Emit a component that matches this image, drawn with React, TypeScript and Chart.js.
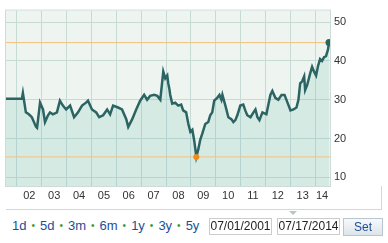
import React, { useEffect, useRef } from "react";
import { Chart, registerables } from "chart.js";
Chart.register(...registerables);

// decimal-year dates and prices
const dates = [
  2001.56, 2002.2, 2002.24, 2002.36, 2002.48, 2002.6, 2002.77, 2002.81, 2002.93,
  2003.05, 2003.13, 2003.25, 2003.33, 2003.45, 2003.61, 2003.73, 2003.85, 2003.98,
  2004.14, 2004.3, 2004.46, 2004.62, 2004.78, 2004.86, 2005.02, 2005.19, 2005.31,
  2005.47, 2005.63, 2005.75, 2005.87, 2006.07, 2006.23, 2006.4, 2006.48, 2006.64,
  2006.8, 2006.96, 2007.12, 2007.24, 2007.36, 2007.52, 2007.65, 2007.77, 2007.89,
  2007.97, 2008.05, 2008.09, 2008.13, 2008.17, 2008.25, 2008.37, 2008.49, 2008.61,
  2008.69, 2008.81, 2008.9, 2008.98, 2009.06, 2009.14, 2009.22, 2009.3, 2009.38,
  2009.46, 2009.58, 2009.7, 2009.78, 2009.86, 2009.94, 2010.06, 2010.15, 2010.23,
  2010.27, 2010.39, 2010.51, 2010.63, 2010.71, 2010.79, 2010.87, 2010.99, 2011.11,
  2011.19, 2011.27, 2011.4, 2011.52, 2011.6, 2011.68, 2011.76, 2011.88, 2012.04,
  2012.2, 2012.28, 2012.4, 2012.52, 2012.65, 2012.77, 2012.89, 2013.01, 2013.13,
  2013.25, 2013.33, 2013.4, 2013.48, 2013.56, 2013.6, 2013.68, 2013.8, 2013.88,
  2013.96, 2014.04, 2014.12, 2014.2, 2014.28, 2014.36, 2014.44, 2014.52, 2014.56,
];
const prices = [
  30.25, 30.25, 31.75, 26.75, 26.25, 25.5, 23, 22.75, 29.25,
  27.5, 24.25, 26, 26.75, 26.25, 26.75, 29.75, 28.5, 27.5,
  28.5, 25.5, 26.75, 28.5, 29.25, 29.75, 27.5, 26.75, 25.5,
  26, 27.5, 26.25, 28.5, 28, 27.5, 25, 23, 25,
  27.5, 29.75, 31.25, 30, 31, 31.25, 31, 30, 37.25,
  35.5, 36.25, 34.25, 33, 31.25, 29, 29.25, 28.5, 28.75,
  27.25, 26.75, 23.75, 21.75, 22.25, 19.25, 15.25, 17.25, 19.75,
  21.25, 23.75, 24.25, 26, 26.75, 29.75, 30.5, 31.25, 30,
  31.25, 28.5, 25.5, 25, 24.25, 24.75, 26, 28.5, 28.75,
  27.25, 26, 25.5, 26.75, 27.5, 25.5, 24.75, 26.75, 26.25,
  31.25, 32.25, 30.5, 30, 31.25, 31.25, 29.25, 27.25, 27.5,
  28, 30, 34.25, 34.75, 36, 32.5, 33.75, 36.75, 38.5,
  37.25, 36.25, 38.75, 40.5, 40, 41, 41.25, 43, 44.75,
];
const yTicks = [10, 20, 30, 40, 50];
const yearGrid = [2002, 2003, 2004, 2005, 2006, 2007, 2008, 2009, 2010, 2011, 2012, 2013, 2014];
const yearLabelPos = [2002.5, 2003.5, 2004.5, 2005.5, 2006.5, 2007.5, 2008.5, 2009.5, 2010.5, 2011.5, 2012.5, 2013.5, 2014.28];
const yearLabels = ["02", "03", "04", "05", "06", "07", "08", "09", "10", "11", "12", "13", "14"];
const lowDate = 2009.22;
const lowValue = 15.25;
const highDate = 2014.56;
const highValue = 44.75;
const rangeButtons = ["1d", "5d", "3m", "6m", "1y", "3y", "5y"];
const startDate = "07/01/2001";
const endDate = "07/17/2014";

const FONT = "'Liberation Sans', Arial, sans-serif";

export default function App() {
  const ref = useRef<HTMLCanvasElement | null>(null);
  useEffect(() => {
    if (!ref.current) return;
    const bgPlugin = {
      id: "bg",
      beforeDraw(chart: any) {
        const { ctx, chartArea: a } = chart;
        ctx.save();
        ctx.fillStyle = "#eef5f1";
        ctx.fillRect(a.left, a.top, a.right - a.left, a.bottom - a.top);
        ctx.restore();
      },
      afterDraw(chart: any) {
        const { ctx, chartArea: a } = chart;
        ctx.save();
        ctx.strokeStyle = "#cddcd9";
        ctx.lineWidth = 1;
        ctx.strokeRect(a.left - 0.5, a.top - 0.5, a.right - a.left + 1, a.bottom - a.top + 1);
        ctx.restore();
      },
    };
    const mainData = dates.map((d, i) => ({ x: d, y: prices[i] }));
    const first = dates[0];
    const last = dates[dates.length - 1];
    const chart = new Chart(ref.current, {
      type: "line",
      data: {
        datasets: [
          {
            data: [{ x: lowDate, y: lowValue }],
            showLine: false,
            pointRadius: 3,
            pointBackgroundColor: "#f08a1c",
            pointBorderWidth: 0,
            order: 0,
          } as any,
          {
            data: [{ x: highDate, y: highValue }],
            showLine: false,
            pointRadius: 3.5,
            pointBackgroundColor: "#2b6462",
            pointBorderWidth: 0,
            order: 0,
          } as any,
          {
            data: [{ x: first, y: highValue }, { x: 2014.6, y: highValue }],
            borderColor: "#f6c07c",
            borderWidth: 1,
            pointRadius: 0,
            fill: false,
            order: 1,
          },
          {
            data: [{ x: first, y: lowValue }, { x: 2014.6, y: lowValue }],
            borderColor: "#f6c07c",
            borderWidth: 1,
            pointRadius: 0,
            fill: false,
            order: 1,
          },
          {
            data: mainData,
            borderColor: "#2b6462",
            borderWidth: 2.5,
            pointRadius: 0,
            tension: 0,
            fill: "start",
            backgroundColor: "rgba(120,190,180,0.2)",
            order: 2,
          },
        ],
      },
      options: {
        animation: false,
        responsive: false,
        maintainAspectRatio: false,
        layout: { padding: { left: 6, top: 5, right: 6, bottom: 5 } },
        plugins: { legend: { display: false }, tooltip: { enabled: false } },
        scales: {
          x: {
            type: "linear",
            position: "bottom",
            min: 2001.56,
            max: 2014.6,
            afterBuildTicks: (axis: any) => {
              axis.ticks = yearGrid.map((v) => ({ value: v }));
            },
            afterFit: (axis: any) => {
              axis.height = 0;
            },
            ticks: { display: false },
            grid: { color: "#c6dad6", lineWidth: 1, drawTicks: false },
            border: { display: false },
          },
          x2: {
            type: "linear",
            position: "bottom",
            min: 2001.56,
            max: 2014.6,
            afterBuildTicks: (axis: any) => {
              axis.ticks = yearLabelPos.map((v) => ({ value: v }));
            },
            afterFit: (axis: any) => {
              axis.height = 14;
            },
            ticks: {
              autoSkip: false,
              maxRotation: 0,
              padding: 3,
              color: "#333333",
              font: { family: FONT, size: 11 },
              callback: (_v: any, i: number) => yearLabels[i],
            },
            grid: { display: false, drawTicks: false },
            border: { display: false },
          },
          y: {
            type: "linear",
            position: "right",
            min: 7.75,
            max: 53,
            afterBuildTicks: (axis: any) => {
              axis.ticks = yTicks.map((v) => ({ value: v }));
            },
            afterFit: (axis: any) => {
              axis.width = 52;
            },
            ticks: {
              padding: 4,
              color: "#333333",
              font: { family: FONT, size: 11 },
            },
            grid: { color: "#c6dad6", lineWidth: 1, drawTicks: false },
            border: { display: false },
          },
        },
      },
      plugins: [bgPlugin],
    } as any);
    return () => chart.destroy();
  }, []);

  const textStyle: React.CSSProperties = { fontFamily: FONT, fontSize: 12 };
  return (
    <div style={{ position: "absolute", left: 0, top: 0, width: 388, height: 243, background: "#fff", ...textStyle }}>
      <canvas ref={ref} width={388} height={205} style={{ position: "absolute", left: 0, top: 0, width: 388, height: 205 }} />
      <div style={{ position: "absolute", left: 6, top: 209, width: 376, height: 1, background: "#cddcd9" }} />
      <div style={{ position: "absolute", left: 381, top: 186, width: 1, height: 24, background: "#cddcd9" }} />
      <div
        style={{
          position: "absolute",
          left: 289,
          top: 211,
          width: 0,
          height: 0,
          borderLeft: "4px solid transparent",
          borderRight: "4px solid transparent",
          borderTop: "4px solid #b7c6c4",
        }}
      />
      <div style={{ position: "absolute", left: 12, top: 218, display: "flex", alignItems: "center", whiteSpace: "nowrap", fontSize: 13, color: "#1b4f96" }}>
        {rangeButtons.map((b, i) => (
          <React.Fragment key={b}>
            {i > 0 && <span style={{ color: "#3a9a3a", fontSize: 10, margin: "0 5px" }}>•</span>}
            <span>{b}</span>
          </React.Fragment>
        ))}
      </div>
      <div style={{ position: "absolute", left: 209, top: 218, width: 61, height: 15, border: "1px solid #cccccc", color: "#222", fontSize: 12, lineHeight: "15px", textAlign: "center" }}>
        {startDate}
      </div>
      <div style={{ position: "absolute", left: 277, top: 218, width: 61, height: 15, border: "1px solid #cccccc", color: "#222", fontSize: 12, lineHeight: "15px", textAlign: "center" }}>
        {endDate}
      </div>
      <div
        style={{
          position: "absolute",
          left: 343,
          top: 218,
          width: 38,
          height: 16,
          border: "1px solid #b9c6cf",
          background: "linear-gradient(#f7f9fb, #dde4ea)",
          color: "#1b4f96",
          fontSize: 12,
          lineHeight: "16px",
          textAlign: "center",
        }}
      >
        Set
      </div>
    </div>
  );
}
